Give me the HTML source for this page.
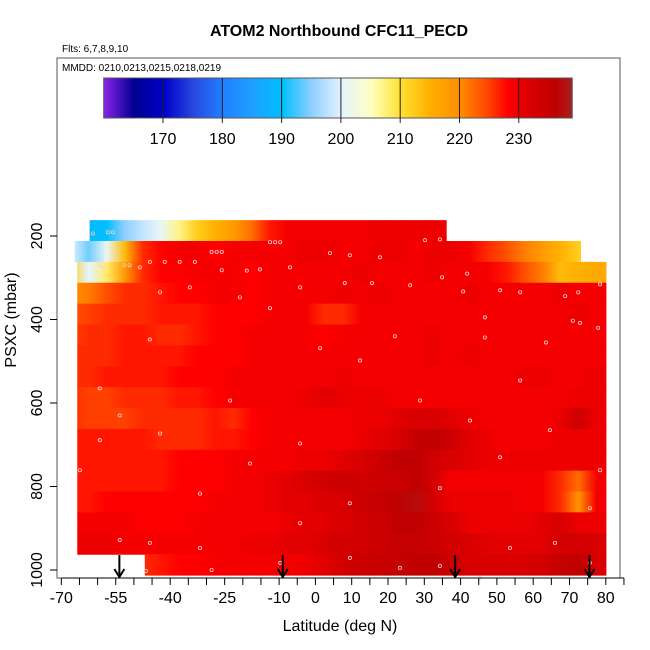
<!DOCTYPE html>
<html><head><meta charset="utf-8"><style>
html,body{margin:0;padding:0;background:#fff;}
svg{display:block;font-family:"Liberation Sans",sans-serif;}
</style></head><body>
<svg id="chart" width="650" height="650" viewBox="0 0 650 650">
<defs id="defs"></defs>
<text x="339" y="36" text-anchor="middle" font-size="16" font-weight="bold">ATOM2 Northbound CFC11_PECD</text>
<text x="62" y="52" font-size="10">Flts: 6,7,8,9,10</text>
<rect x="57" y="58" width="563" height="520" fill="none" stroke="#555" stroke-width="1"/>
<text x="62" y="71" font-size="10">MMDD: 0210,0213,0215,0218,0219</text>
<g id="heat"></g>
<g id="pts"></g>
<g id="arrows"></g>
<g id="cbar"></g>
<g id="xaxis"></g>
<g id="yaxis"></g>
<text x="340" y="631" text-anchor="middle" font-size="16">Latitude (deg N)</text>
<text transform="translate(16,320) rotate(-90)" text-anchor="middle" font-size="16">PSXC (mbar)</text>
</svg>
<script>
const colLatEdges = [-70,-65,-60,-55,-50,-45,-40,-35,-30,-25,-20,-15,-10,-5,0,5,10,15,20,25,30,35,40,45,50,55,60,65,70,75,80];
const rowPressEdges = [162,212,262,312,362,412,462,512,562,612,662,712,762,812,862,912,962,1012];
const rowStart = [-62.2,-66.3,-65.6,-65.6,-65.6,-65.6,-65.6,-65.6,-65.6,-65.6,-65.6,-65.6,-65.6,-65.6,-65.6,-65.6,-47];
const rowEnd = [36,73,80.2,80,80,80,80,80,80,80,80,80,80,80,80,80,80];
const R0 = [189,189,190,195,198,201,207,212,215,218,222,227,229,229,229,229,229,230,230,230,230,230,null,null,null,null,null,null,null,null];
const R1 = [200,194,201,214,226,228,229,229,228,229,229,229,229,230,230,229,229,230,230,229,230,230,229,226,224,221,218,215,212,null];
const R2 = [212,200,208,218,226,228,228,229,229,229,228,229,229,229,229,229,230,229,229,229,230,229,229,229,227,224,221,214,215,216];
const R3 = [220,221,224,226,226,227,228,228,229,229,228,229,229,229,229,230,229,230,229,229,229,229,230,229,229,229,229,230,229,229];
const R4 = [224,225,226,226,226,227,227,227,228,228,228,229,229,229,226,226,229,229,229,229,229,229,229,229,229,229,229,229,230,229];
const R5 = [225,226,226,227,227,226,226,227,228,228,229,229,229,229,228,229,229,229,229,229,230,229,229,229,229,229,229,229,229,229];
const R6 = [226,226,226,227,227,227,227,228,228,228,229,229,229,229,229,229,229,229,229,229,230,229,230,229,229,229,229,229,229,229];
const R7 = [226,226,227,227,227,227,228,228,228,229,229,229,229,229,229,230,229,229,229,229,229,229,229,229,229,230,230,229,229,230];
const R8 = [226,225,225,226,226,226,227,227,228,229,229,229,229,230,231,230,230,230,229,229,229,229,229,229,229,229,229,229,230,230];
const R9 = [226,225,225,225,226,226,226,226,227,226,228,229,229,229,229,229,230,230,231,232,232,231,230,229,229,229,229,230,234,230];
const R10 = [227,227,227,227,227,226,226,226,227,227,228,229,229,229,229,229,230,231,232,235,236,234,231,230,229,229,229,230,230,230];
const R11 = [227,227,227,227,227,227,228,228,228,229,229,229,229,230,230,231,232,234,236,236,233,232,231,230,230,230,230,230,230,230];
const R12 = [227,227,227,227,227,227,228,228,228,229,229,230,231,232,233,234,233,234,234,236,233,229,229,229,229,229,229,226,222,229];
const R13 = [227,227,228,228,228,228,228,228,229,229,229,230,231,231,232,232,234,235,236,237,233,230,230,230,230,229,229,226,219,229];
const R14 = [229,229,229,229,228,228,228,229,229,229,229,229,230,231,231,232,233,234,236,236,234,232,230,230,230,230,231,232,230,230];
const R15 = [230,230,230,229,229,229,229,229,229,229,230,230,231,231,232,233,233,234,235,235,234,233,232,231,231,231,231,233,233,232];
const R16 = [null,null,null,null,226,227,228,228,229,229,229,229,229,230,231,233,234,235,235,236,236,234,232,232,232,232,233,235,236,232];
const gridRows = [R0,R1,R2,R3,R4,R5,R6,R7,R8,R9,R10,R11,R12,R13,R14,R15,R16];
const ptLat = [-61.3,-57.2,-55.8,-12.5,-11.1,-9.7,30.2,34.3,-45.6,-41.5,-37.4,-33.2,-28.6,-27.2,-25.8,-18.9,-15.3,-7.0,4.0,9.5,17.8,-59.4,-58.1,-52.6,-51.2,-48.4,-42.8,-34.6,-25.8,-20.8,-12.5,-4.2,8.1,15.6,26.1,34.9,40.7,41.8,50.9,56.4,68.8,72.4,78.4,46.7,63.5,70.9,72.9,77.9,46.7,21.9,1.3,12.3,-45.6,-59.4,-53.9,-23.5,-4.2,-18.0,-31.8,-42.8,28.8,42.6,56.4,64.6,78.4,9.5,-4.2,34.3,50.9,75.6,-64.9,-59.4,-53.9,-45.6,-31.8,9.5,23.3,34.3,53.6,66.0,75.6,-9.7,-28.6,-46.7,45.3];
const ptPress = [194,191,191,215,215,215,210,208,262,262,262,262,238,238,238,283,280,275,241,246,251,270,275,270,270,275,335,323,282,347,373,323,313,313,318,299,333,290,330,335,344,335,316,395,455,403,408,420,443,440,469,498,448,565,630,594,697,745,817,673,594,642,546,665,761,840,888,804,730,852,761,689,928,935,947,971,995,990,947,935,983,983,1000,1002,1019];
const arrowLat = [-54, -9, 38.5, 75.5];
const cbTicks = [170,180,190,200,210,220,230];

const NS='http://www.w3.org/2000/svg';
const xS = lat => 315.4 + lat*3.63;
const yS = p => 236 + (p-200)*0.4175;
const cbX = v => 163 + (v-170)*5.93;
const stops = [[160,'#8a22e6'],[165,'#000090'],[170,'#0000c8'],[175,'#2848e0'],[180,'#2080ff'],[185,'#1ea0ff'],[190,'#00bfff'],[195,'#90cfff'],[200,'#e4f4ff'],[205,'#ffffc0'],[210,'#ffe030'],[215,'#ffb000'],[220,'#ff8c00'],[225,'#ff4000'],[228,'#ff0000'],[232,'#d80000'],[236,'#c00000'],[239,'#a52222']];
function hex(h){return [parseInt(h.slice(1,3),16),parseInt(h.slice(3,5),16),parseInt(h.slice(5,7),16)];}
function cmap(v){
  if(v<=stops[0][0]) return stops[0][1];
  for(let i=1;i<stops.length;i++){
    if(v<=stops[i][0]){
      const t=(v-stops[i-1][0])/(stops[i][0]-stops[i-1][0]);
      const a=hex(stops[i-1][1]), b=hex(stops[i][1]);
      return 'rgb('+a.map((c,k)=>Math.round(c+(b[k]-c)*t)).join(',')+')';
    }
  }
  return stops[stops.length-1][1];
}
function mk(tag,attrs,parent){const e=document.createElementNS(NS,tag);for(const k in attrs)e.setAttribute(k,attrs[k]);parent.appendChild(e);return e;}

const heat=document.getElementById('heat');
const defs=document.getElementById('defs');
gridRows.forEach((row,r)=>{
  const gid='rowgrad'+r;
  const x0=xS(-70), x1=xS(80);
  const lg=mk('linearGradient',{id:gid,gradientUnits:'userSpaceOnUse',x1:x0,y1:0,x2:x1,y2:0},defs);
  row.forEach((v,c)=>{
    if(v===null) return;
    const mid=(colLatEdges[c]+colLatEdges[c+1])/2;
    const off=(xS(mid)-x0)/(x1-x0);
    mk('stop',{offset:off,'stop-color':cmap(v)},lg);
  });
  row.forEach((v,c)=>{
    if(v===null) return;
    const l0=Math.max(colLatEdges[c],rowStart[r]), l1=Math.min(colLatEdges[c+1],rowEnd[r]);
    if(l1<=l0) return;
    const y0=yS(rowPressEdges[r]), y1=yS(rowPressEdges[r+1]);
    const el=mk('rect',{x:xS(l0),y:y0,width:xS(l1)-xS(l0)+0.6,height:y1-y0+0.6,fill:'url(#'+gid+')','data-value':v},heat);
    
    
  });
});
const pts=document.getElementById('pts');
ptLat.forEach((la,i)=>{
  const el=mk('circle',{cx:xS(la),cy:yS(ptPress[i]),r:1.6,fill:'none',stroke:'#f4d0d0','stroke-width':0.8},pts);
  
  
});
const arr=document.getElementById('arrows');
arrowLat.forEach(la=>{
  const x=xS(la);
  const g=mk('g',{},arr);
  
  
  mk('line',{x1:x,y1:555,x2:x,y2:577,stroke:'#000','stroke-width':2},g);
  mk('polyline',{points:(x-5)+',569 '+x+',577 '+(x+5)+',569',fill:'none',stroke:'#000','stroke-width':2},g);
});
const cb=document.getElementById('cbar');
for(let v=160;v<239;v+=0.25){
  mk('rect',{x:cbX(v),y:78,width:5.93*0.25+0.4,height:40,fill:cmap(v)},cb);
}
const cbf=mk('rect',{x:cbX(160),y:78,width:cbX(239)-cbX(160),height:40,fill:'none',stroke:'#555','stroke-width':1},cb);


cbTicks.forEach(t=>{
  mk('line',{x1:cbX(t),y1:78,x2:cbX(t),y2:123,stroke:'#222','stroke-width':1},cb);
  const tx=mk('text',{x:cbX(t),y:144,'text-anchor':'middle','font-size':16},cb);
  tx.textContent=t;
  
  
});
const xa=document.getElementById('xaxis');
mk('line',{x1:xS(-70),y1:578,x2:xS(85),y2:578,stroke:'#000','stroke-width':1},xa);
const xLabels=[-70,-55,-40,-25,-10,0,10,20,30,40,50,60,70,80];
for(let l=-70;l<=85;l+=5){
  mk('line',{x1:xS(l),y1:578,x2:xS(l),y2:585,stroke:'#000','stroke-width':1},xa);
}
xLabels.forEach(l=>{
  const t=mk('text',{x:xS(l),y:603,'text-anchor':'middle','font-size':16},xa);
  t.textContent=l;
  
  
});
const ya=document.getElementById('yaxis');
[200,400,600,800,1000].forEach(p=>{
  const y=yS(p);
  mk('line',{x1:50,y1:y,x2:57,y2:y,stroke:'#000','stroke-width':1},ya);
  const t=mk('text',{transform:'translate(42,'+y+') rotate(-90)','text-anchor':'middle','font-size':16},ya);
  t.textContent=p;
  
  
});
</script>
</body></html>
